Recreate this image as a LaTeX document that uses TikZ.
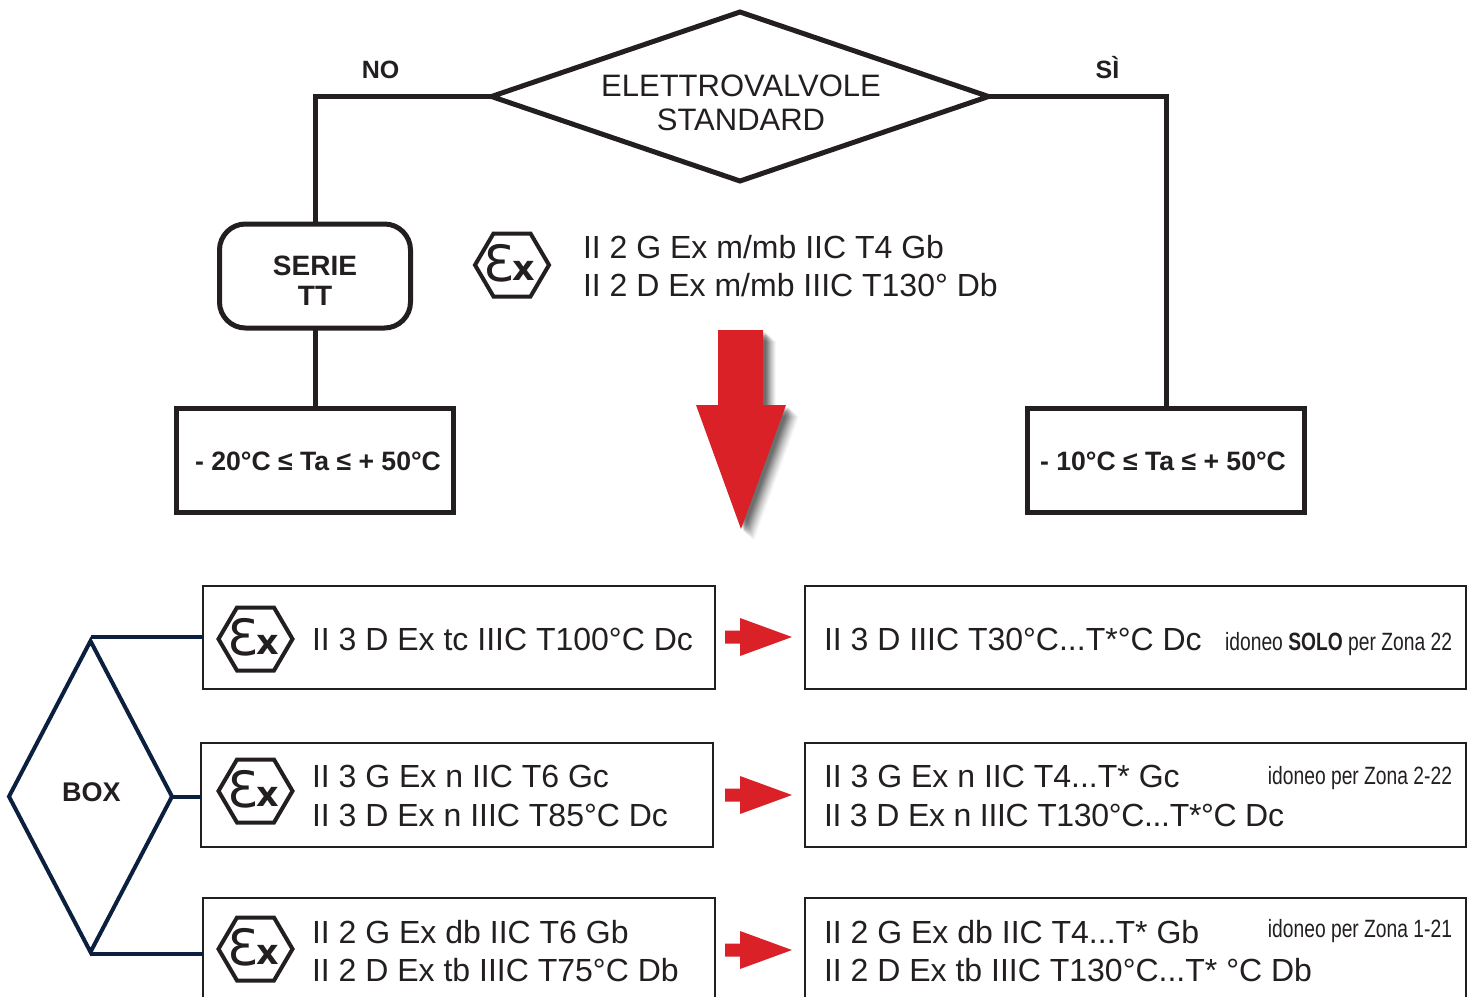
\documentclass[tikz,border=0pt]{standalone}
\usepackage{fontspec}
\setmainfont{Liberation Sans}
\newfontfamily\condfont[FakeStretch=0.77]{Liberation Sans}
\newfontfamily\logofont{DejaVu Sans}
\usetikzlibrary{shapes.geometric}
\definecolor{ink}{HTML}{231F20}
\definecolor{navy}{HTML}{0B1F3F}
\definecolor{redarrow}{HTML}{DA2128}
\tikzset{
  heavyline/.style={draw=ink,line width=5pt,line join=miter},
  thinbox/.style={draw=ink,line width=2.6pt,fill=white,inner sep=0pt,outer sep=0pt},
  navyline/.style={draw=navy,line width=4pt},
  txt/.style={text=ink,inner sep=0pt,outer sep=0pt,align=left,font=\fontsize{32}{38.5}\selectfont},
  boldtxt/.style={text=ink,inner sep=0pt,outer sep=0pt,align=center,font=\fontsize{26.6}{30}\selectfont\bfseries},
  small/.style={text=ink,inner sep=0pt,outer sep=0pt,anchor=east,font=\fontsize{25}{30}\selectfont\condfont},
  exlogo/.pic={
    \draw[ink,line width=4pt,line join=miter] (-37,0)--(-18.5,-31.5)--(18.5,-31.5)--(37,0)--(18.5,31.5)--(-18.5,31.5)--cycle;
    \node[text=ink,inner sep=0pt,font=\logofont\fontsize{50}{50}\selectfont] (-eps) at (-13,-2) {Ɛ};
    \node[text=ink,inner sep=0pt,font=\logofont\bfseries\fontsize{35}{35}\selectfont] (-x) at (12,6) {x};
  }
}
\newcommand{\bigarrowpath}{(718,330)--(763,330)--(763,405)--(786,405)--(741,529)--(696,405)--(718,405)--cycle}
\begin{document}
\begin{tikzpicture}[x=1pt,y=-1pt]
\useasboundingbox (0,0) rectangle (1472,996);
\clip (0,0) rectangle (1472,996);
\fill[white] (0,0) rectangle (1472,996);

% top decision
\node[diamond,aspect=2.95,draw=ink,line width=5pt,minimum width=497pt,minimum height=169pt,inner sep=0pt,outer sep=0pt] (std) at (740,96.5) {};
\node[text=ink,inner sep=0pt,align=center,font=\fontsize{31}{34}\selectfont] (stdl) at (741,103) {ELETTROVALVOLE\\STANDARD};
\node[draw=ink,line width=5pt,rounded corners=26pt,minimum width=191pt,minimum height=104pt,inner sep=0pt,outer sep=0pt] (tt) at (315,276) {};
\node[boldtxt,font=\fontsize{28}{30}\selectfont\bfseries] (ttl) at (315,281) {SERIE\\TT};
\node[draw=ink,line width=5pt,minimum width=277pt,minimum height=104pt,inner sep=0pt,outer sep=0pt,boldtxt] (tl) at (315,460) {\hspace{6pt}\raisebox{-10pt}[0pt][0pt]{- 20°C ≤ Ta ≤ + 50°C}};
\node[draw=ink,line width=5pt,minimum width=277pt,minimum height=104pt,inner sep=0pt,outer sep=0pt,boldtxt] (tr) at (1166,460) {\raisebox{-10pt}[0pt][0pt]{- 10°C ≤ Ta ≤ + 50°C}\hspace{6pt}};
\draw[heavyline] (std.west) -| (tt.north);
\draw[heavyline] (tt.south) -- (tl.north);
\draw[heavyline] (std.east) -| (tr.north);
\node[boldtxt,font=\fontsize{25}{25}\selectfont\bfseries] (no) at (380.5,69.5) {NO};
\node[boldtxt,font=\fontsize{25}{25}\selectfont\bfseries] (si) at (1107.5,68) {SÌ};

\pic (l0) at (512,265) {exlogo};
\node[txt,anchor=west] (t0) at (583,266) {II 2 G Ex m/mb IIC T4 Gb\\II 2 D Ex m/mb IIIC T130° Db};

% big arrow with soft shadow
\foreach \d/\o in {13/0.03,12/0.04,11/0.05,10/0.05,9/0.06,8/0.07,7/0.08,6/0.09,5/0.10,4/0.10,3/0.10}{
  \fill[black,opacity=\o] [shift={(\d pt,-\d pt*0.9)}] \bigarrowpath;
}
\fill[redarrow] \bigarrowpath;

% boxes
\node[thinbox,minimum width=512pt,minimum height=103pt] (a1) at (459,637.5) {};
\node[thinbox,minimum width=661pt,minimum height=103pt] (b1) at (1135.5,637.5) {};
\node[thinbox,minimum width=512pt,minimum height=104pt] (a2) at (457,795) {};
\node[thinbox,minimum width=661pt,minimum height=104pt] (b2) at (1135.5,795) {};
\node[thinbox,minimum width=512pt,minimum height=104pt] (a3) at (459,950) {};
\node[thinbox,minimum width=661pt,minimum height=104pt] (b3) at (1135.5,950) {};

\pic (l1) at (255.5,639) {exlogo};
\pic (l2) at (255.5,791) {exlogo};
\pic (l3) at (255.5,949) {exlogo};

\node[txt,anchor=west] (ta1) at (312,639) {II 3 D Ex tc IIIC T100°C Dc};
\node[txt,anchor=west] (ta2) at (312,796) {II 3 G Ex n IIC T6 Gc\\II 3 D Ex n IIIC T85°C Dc};
\node[txt,anchor=west] (ta3) at (312,951) {II 2 G Ex db IIC T6 Gb\\II 2 D Ex tb IIIC T75°C Db};
\node[txt,anchor=west] (tb1) at (824,639) {II 3 D IIIC T30°C...T*°C Dc};
\node[txt,anchor=west] (tb2) at (824,796) {II 3 G Ex n IIC T4...T* Gc\\{\addfontfeature{LetterSpace=-1.05}II 3 D Ex n IIIC T130°C...T*°C Dc}};
\node[txt,anchor=west] (tb3) at (824,951) {II 2 G Ex db IIC T4...T* Gb\\II 2 D Ex tb IIIC T130°C...T* °C Db};

\node[small] (z1) at (1452,644) {idoneo {\bfseries SOLO} per Zona 22};
\node[small] (z2) at (1452,778.5) {idoneo per Zona 2-22};
\node[small] (z3) at (1452,931.5) {idoneo per Zona 1-21};

% small red arrows
\foreach \y in {637,795,950}{
  \fill[redarrow] (725,\y-6.5)--(740,\y-6.5)--(740,\y-19)--(792,\y)--(740,\y+19)--(740,\y+6.5)--(725,\y+6.5)--cycle;
}

% BOX
\node[diamond,aspect=0.524,navyline,minimum width=163pt,minimum height=311pt,inner sep=0pt,outer sep=0pt] (boxd) at (90.5,796.5) {};
\node[boldtxt,font=\fontsize{27}{30}\selectfont\bfseries] (boxl) at (91.5,792) {BOX};
\coordinate (c1) at (91,637);
\coordinate (c3) at (90,954);
\draw[navyline] (c1) -- (a1.west |- c1);
\draw[navyline] (boxd.east) -- (a2.west |- boxd.east);
\draw[navyline] (c3) -- (a3.west |- c3);
\end{tikzpicture}
\end{document}
